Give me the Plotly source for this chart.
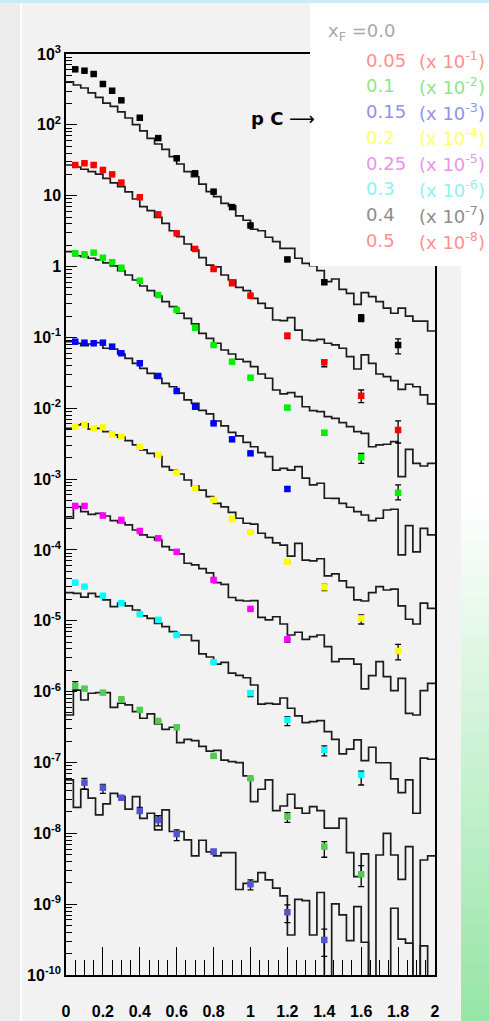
import numpy as np
import plotly.graph_objects as go

# ---------------- data ----------------
bin_edges = list(np.linspace(0.0, 2.0, 51))   # 50 bins of width 0.04

x_all = [0.05, 0.1, 0.15, 0.2, 0.25, 0.3, 0.4, 0.5, 0.6, 0.7, 0.8, 0.9, 1.0, 1.2, 1.4, 1.6, 1.8]

# xF = 0.0 (black)
black_x = x_all
black_y = [608, 581, 522, 377, 303, 222, 126, 65, 33.7, 20.7, 11.4, 6.9, 3.8, 1.26, 0.60, 0.186, 0.078]
black_up = [0, 0, 0, 0, 0, 0, 0, 0, 0, 0, 0, 0, 0, 0.05, 0.03, 0.024, 0.0175]
black_dn = [0, 0, 0, 0, 0, 0, 0, 0, 0, 0, 0, 0, 0, 0.05, 0.03, 0.019, 0.0195]
black_h = [406, 365, 331, 282, 245, 203, 182, 152, 125, 101,
           82, 64.6, 53.7, 45, 35.5, 28, 21.8, 18.5, 14.6, 11.4,
           9.7, 7.8, 7.2, 5.2, 4.5, 3.36, 3.2, 2.59, 2.24, 1.81,
           1.81, 1.31, 1.11, 1.03, 0.873, 0.611, 0.667, 0.477, 0.419, 0.293,
           0.428, 0.375, 0.319, 0.258, 0.219, 0.258, 0.200, 0.170, 0.170, 0.123]

# xF = 0.05 (red)
red_x = x_all
red_y = [27.1, 28.7, 27.1, 23.1, 20.0, 15.3, 9.5, 5.46, 2.94, 1.77, 0.923, 0.58, 0.388, 0.106, 0.0445, 0.0150, 0.00493]
red_up = [0, 0, 0, 0, 0, 0, 0, 0, 0, 0, 0, 0, 0, 0.007, 0.003, 0.0031, 0.0017]
red_dn = [0, 0, 0, 0, 0, 0, 0, 0, 0, 0, 0, 0, 0, 0.010, 0.006, 0.003, 0.0017]
red_h = [27.1, 25.4, 23.6, 21.8, 20.2, 17.6, 15.2, 13.4, 11.3, 8.98,
         7.0, 6.14, 4.95, 4.07, 3.2, 2.64, 2.08, 1.71, 1.34, 1.05,
         0.986, 0.760, 0.646, 0.509, 0.456, 0.356, 0.303, 0.258, 0.176, 0.172,
         0.190, 0.127, 0.0918, 0.0898, 0.094, 0.0826, 0.0782, 0.0702, 0.0535, 0.0358,
         0.0565, 0.0431, 0.0304, 0.0279, 0.0245, 0.0185, 0.0218, 0.0201, 0.0154, 0.0115]

# xF = 0.1 (green)
green_x = x_all
green_y = [1.54, 1.49, 1.57, 1.33, 1.15, 0.964, 0.631, 0.396, 0.244, 0.137, 0.078, 0.0454, 0.027, 0.0102, 0.00452, 0.00203, 6.4e-4]
green_up = [0, 0, 0, 0, 0, 0, 0, 0, 0, 0, 0, 0, 0, 0.0005, 0.0003, 0.00028, 1.9e-4]
green_dn = [0, 0, 0, 0, 0, 0, 0, 0, 0, 0, 0, 0, 0, 0.0005, 0.0003, 0.00036, 1.3e-4]
green_h = [1.62, 1.42, 1.38, 1.31, 1.24, 1.13, 1.02, 0.873, 0.760, 0.646,
           0.531, 0.456, 0.384, 0.319, 0.271, 0.219, 0.186, 0.155, 0.114, 0.0971,
           0.0826, 0.0664, 0.0583, 0.0491, 0.0454, 0.0386, 0.0304, 0.0265, 0.0181, 0.0159,
           0.0166, 0.0146, 0.0105, 0.00923, 0.00893, 0.0076, 0.00721, 0.00625, 0.0055, 0.00467,
           0.00443, 0.00286, 0.00303, 0.0031, 0.00337, 0.00108, 0.00263, 0.00167, 0.00153, 0.00167]

# xF = 0.15 (blue)
blue_x = [0.05, 0.1, 0.15, 0.2, 0.25, 0.3, 0.4, 0.5, 0.6, 0.7, 0.8, 0.9, 1.0, 1.2]
blue_y = [0.0869, 0.0841, 0.0826, 0.0841, 0.074, 0.0597, 0.0431, 0.0285, 0.0175, 0.0105, 0.00612, 0.00364, 0.00231, 7.25e-4]
blue_up = [0, 0, 0, 0, 0, 0, 0, 0, 0, 0, 0, 0, 0, 5e-5]
blue_dn = [0, 0, 0, 0, 0, 0, 0, 0, 0, 0, 0, 0, 0, 5e-5]
blue_h = [0.0869, 0.0826, 0.0764, 0.0807, 0.0841, 0.0702, 0.0686, 0.0583, 0.0507, 0.0431,
          0.0366, 0.0311, 0.0265, 0.0225, 0.0201, 0.0163, 0.0131, 0.0117, 0.0093, 0.0083,
          0.0066, 0.00562, 0.00455, 0.00406, 0.00329, 0.00286, 0.00236, 0.00207, 0.00134, 0.00142,
          0.00134, 0.0015, 0.00103, 8.26e-4, 8.73e-4, 5.36e-4, 5.34e-4, 4.55e-4, 4.0e-4, 3.47e-4,
          3.11e-4, 2.59e-4, 2.8e-4, 3.66e-4, 3.75e-4, 8.5e-5, 2.2e-4, 9.4e-5, 2.02e-4, 1.63e-4]

# xF = 0.2 (yellow)
yellow_x = x_all
yellow_y = [0.0055, 0.00581, 0.00521, 0.00538, 0.00429, 0.00396, 0.00286, 0.00219, 0.00123, 7.41e-4,
            5.07e-4, 2.73e-4, 1.77e-4, 6.83e-5, 2.97e-5, 1.08e-5, 3.75e-6]
yellow_up = [0, 0, 0, 0, 0, 0, 0, 0, 0, 0, 0, 0, 0, 0, 3e-6, 1.3e-6, 9e-7]
yellow_dn = [0, 0, 0, 0, 0, 0, 0, 0, 0, 0, 0, 0, 0, 4e-6, 3e-6, 1.8e-6, 9.5e-7]
yellow_h = [0.00521, 0.00581, 0.006, 0.00505, 0.00521, 0.00467, 0.0042, 0.00389, 0.00348, 0.00303,
            0.00258, 0.00231, 0.00207, 0.0015, 0.00134, 0.00118, 9.7e-4, 8.0e-4, 7.0e-4, 5.65e-4,
            4.55e-4, 4.04e-4, 3.38e-4, 2.8e-4, 2.38e-4, 2.32e-4, 1.72e-4, 1.49e-4, 1.26e-4, 1.17e-4,
            8.2e-5, 1.24e-4, 7.2e-5, 7.0e-5, 7.5e-5, 4.3e-5, 4.6e-5, 3.65e-5, 2.97e-5, 1.97e-5,
            1.9e-5, 2.49e-5, 3.03e-5, 2.72e-5, 2.79e-5, 1.62e-5, 1.05e-5, 9.0e-6, 1.77e-5, 1.5e-5]

# xF = 0.25 (magenta)
magenta_x = [0.05, 0.1, 0.2, 0.3, 0.4, 0.5, 0.6, 0.8, 1.0, 1.2]
magenta_y = [4.17e-4, 4.17e-4, 3.05e-4, 2.65e-4, 1.85e-4, 1.46e-4, 9.4e-5, 3.77e-5, 1.47e-5, 5.48e-6]
magenta_up = [0, 0, 0, 0, 0, 0, 0, 0, 0, 0]
magenta_dn = [0, 0, 0, 0, 0, 0, 0, 0, 0, 5e-7]
magenta_h = [2.8e-4, 4.08e-4, 3.47e-4, 3.18e-4, 3.29e-4, 3.01e-4, 2.59e-4, 2.43e-4, 2.25e-4, 1.91e-4,
             1.63e-4, 1.51e-4, 1.38e-4, 1.11e-4, 9.98e-5, 8.77e-5, 6.48e-5, 6.14e-5, 5.44e-5, 4.73e-5,
             3.45e-5, 3.26e-5, 2.13e-5, 1.94e-5, 1.9e-5, 1.92e-5, 1.12e-5, 1.03e-5, 1.14e-5, 9.0e-6,
             6.3e-6, 6.89e-6, 5.48e-6, 5.97e-6, 6.3e-6, 4.31e-6, 2.65e-6, 2.89e-6, 2.89e-6, 2.45e-6,
             1.09e-6, 1.68e-6, 2.65e-6, 1.63e-6, 1.03e-6, 1.54e-6, 4.94e-7, 4.68e-7, 1.03e-6, 1.31e-6]

# xF = 0.3 (cyan)
cyan_x = [0.05, 0.1, 0.2, 0.3, 0.4, 0.5, 0.6, 0.8, 1.0, 1.2, 1.4, 1.6]
cyan_y = [3.45e-5, 3.03e-5, 2.26e-5, 1.77e-5, 1.24e-5, 1.03e-5, 6.3e-6, 2.6e-6, 9.5e-7, 3.98e-7, 1.5e-7, 6.67e-8]
cyan_up = [0, 0, 0, 0, 0, 0, 0, 0, 5e-8, 4.5e-8, 2.1e-8, 9e-9]
cyan_dn = [0, 0, 0, 0, 0, 0, 0, 0, 1e-7, 6.7e-8, 2.6e-8, 1.86e-8]
cyan_h = [2.49e-5, 2.44e-5, 2.15e-5, 2.44e-5, 2.19e-5, 1.97e-5, 1.58e-5, 1.77e-5, 1.62e-5, 1.42e-5,
          1.17e-5, 1.08e-5, 9.2e-6, 8.26e-6, 7.02e-6, 6.3e-6, 6.3e-6, 5.24e-6, 3.4e-6, 3.08e-6,
          2.45e-6, 2.58e-6, 1.82e-6, 1.69e-6, 1.57e-6, 1.24e-6, 6.68e-7, 6.84e-7, 6.68e-7, 8.13e-7,
          5.82e-7, 4.54e-7, 3.65e-7, 3.77e-7, 3.89e-7, 2.72e-7, 2.12e-7, 1.32e-7, 1.54e-7, 2.08e-7,
          1.06e-7, 1.64e-7, 9.9e-8, 9.9e-8, 5.85e-8, 3.75e-8, 5.66e-8, 1.92e-8, 1.15e-7, 1.11e-7]

# xF = 0.4 (light green)
green2_x = [0.05, 0.1, 0.2, 0.3, 0.4, 0.5, 0.6, 0.8, 1.0, 1.2, 1.4, 1.6]
green2_y = [1.2e-6, 1.1e-6, 9.67e-7, 7.8e-7, 5.51e-7, 3.85e-7, 3.14e-7, 1.24e-7, 5.98e-8, 1.72e-8, 6.48e-9, 2.64e-9]
green2_up = [1.8e-7, 5e-8, 0, 0, 0, 0, 0, 0, 0, 2.4e-9, 1.14e-9, 8.6e-10]
green2_dn = [1.5e-7, 5e-8, 0, 0, 0, 0, 0, 1e-8, 3e-9, 2.9e-9, 1.89e-9, 8.7e-10]
green2_h = [4.68e-7, 1.05e-6, 7.62e-7, 9.48e-7, 9.66e-7, 9.66e-7, 6.01e-7, 6.85e-7, 6.49e-7, 5.21e-7,
            4.21e-7, 4.84e-7, 3.49e-7, 2.94e-7, 3.14e-7, 1.9e-7, 2.12e-7, 2.03e-7, 1.69e-7, 1.45e-7,
            1.48e-7, 1.08e-7, 1.03e-7, 9.93e-8, 6.45e-8, 2.8e-8, 4.19e-8, 5.66e-8, 2.09e-8, 2.43e-8,
            3.56e-8, 2.26e-8, 1.92e-8, 2.38e-8, 2.09e-8, 1.18e-8, 1.18e-8, 1.63e-8, 5.33e-9, 2.44e-9,
            5.13e-9, 0, 4.94e-9, 1.0e-8, 4.94e-9, 2.24e-9, 6.49e-9, 0, 4.2e-9, 4.79e-9]

# xF = 0.5 (violet blue)
blue2_x = [0.1, 0.2, 0.3, 0.4, 0.5, 0.6, 0.8, 1.0, 1.2, 1.4]
blue2_y = [5.19e-8, 4.41e-8, 3.18e-8, 2.07e-8, 1.54e-8, 9.8e-9, 5.51e-9, 1.91e-9, 7.69e-10, 3.13e-10]
blue2_up = [7.9e-9, 5.1e-9, 2e-9, 2.6e-9, 2.3e-9, 1.4e-9, 4e-10, 2.9e-10, 2.1e-10, 1.3e-10]
blue2_dn = [1.0e-8, 7.4e-9, 2e-9, 1.5e-9, 2.7e-9, 1.9e-9, 4e-10, 3.2e-10, 2.2e-10, 1.3e-10]
blue2_h = [5.66e-8, 2.33e-8, 4.19e-8, 3.13e-8, 1.82e-8, 2.6e-8, 3.67e-8, 3.29e-8, 2.19e-8, 3.29e-8,
           1.63e-8, 1.92e-8, 1.12e-8, 2.14e-8, 1.06e-8, 1.06e-8, 8.07e-9, 4.79e-9, 7.98e-9, 5.46e-9,
           4.79e-9, 5.33e-9, 5.33e-9, 1.61e-9, 1.97e-9, 2.08e-9, 2.79e-9, 2.2e-9, 1.68e-9, 1.31e-9,
           3.67e-10, 1.17e-9, 1.12e-9, 3.67e-10, 1.46e-9, 0, 1.01e-9, 7.05e-10, 3.06e-10, 9.23e-10,
           2.9e-10, 0, 0, 0, 8.75e-10, 3.2e-10, 2.81e-10, 0, 2.57e-10, 0]

legend_values = ["0.05", "0.1", "0.15", "0.2", "0.25", "0.3", "0.4", "0.5"]
legend_exps = ["-1", "-2", "-3", "-4", "-5", "-6", "-7", "-8"]

x_tickvals = [0, 0.2, 0.4, 0.6, 0.8, 1.0, 1.2, 1.4, 1.6, 1.8, 2.0]
x_ticktext = ["0", "0.2", "0.4", "0.6", "0.8", "1", "1.2", "1.4", "1.6", "1.8", "2"]
y_exps = list(range(-10, 4))
y_ticktext = ["10<sup>%d</sup>" % e for e in range(-10, 0)] + ["1", "10", "10<sup>2</sup>", "10<sup>3</sup>"]

# ---------------- styling ----------------
W, H = 489, 1021
L, R, T, B = 66, 435, 54, 975
BG = "#f2f2f2"

series = [
    (black_x, black_y, black_up, black_dn, black_h, "#000000"),
    (red_x, red_y, red_up, red_dn, red_h, "#ff0000"),
    (green_x, green_y, green_up, green_dn, green_h, "#00f000"),
    (blue_x, blue_y, blue_up, blue_dn, blue_h, "#0000ff"),
    (yellow_x, yellow_y, yellow_up, yellow_dn, yellow_h, "#ffff00"),
    (magenta_x, magenta_y, magenta_up, magenta_dn, magenta_h, "#ff00ff"),
    (cyan_x, cyan_y, cyan_up, cyan_dn, cyan_h, "#00ffff"),
    (green2_x, green2_y, green2_up, green2_dn, green2_h, "#50cc50"),
    (blue2_x, blue2_y, blue2_up, blue2_dn, blue2_h, "#5252d4"),
]

legend_colors = ["#ff8f8f", "#8fe48f", "#9292e6", "#ffff6a", "#e994e9", "#8ff0f0", "#8c8c8c", "#ff8f8f"]


def fx(p):
    return (p - L) / (R - L)


def fy(p):
    return (B - p) / (B - T)


fig = go.Figure()

for xs, ys, up, dn, hv, col in series:
    yplot = [v if v > 0 else 1e-13 for v in hv]
    fig.add_trace(go.Scatter(
        x=bin_edges, y=yplot + [yplot[-1]], mode="lines",
        line=dict(shape="hv", color="#1c1c1c", width=1.7),
        hoverinfo="skip", showlegend=False))

for xs, ys, up, dn, hv, col in series:
    fig.add_trace(go.Scatter(
        x=xs, y=ys, mode="markers",
        marker=dict(symbol="square", size=6.5, color=col, line=dict(width=0)),
        error_y=dict(type="data", symmetric=False, array=up, arrayminus=dn,
                     color="#000000", thickness=1.3, width=3),
        showlegend=False))

shapes = []
shapes.append(dict(type="rect", xref="paper", yref="paper", x0=fx(0), x1=fx(20), y0=fy(H), y1=fy(0),
                   fillcolor="#ececec", line=dict(width=0), layer="below"))
shapes.append(dict(type="rect", xref="paper", yref="paper", x0=fx(20), x1=fx(22), y0=fy(H), y1=fy(0),
                   fillcolor="#ffffff", line=dict(width=0), layer="below"))
shapes.append(dict(type="rect", xref="paper", yref="paper", x0=fx(0), x1=fx(W), y0=fy(3), y1=fy(0),
                   fillcolor="#c8ecf8", line=dict(width=0), layer="above"))
shapes.append(dict(type="rect", xref="paper", yref="paper", x0=fx(310), x1=fx(W), y0=fy(266), y1=fy(3),
                   fillcolor="#ffffff", line=dict(width=0), layer="above"))
shapes.append(dict(type="rect", xref="paper", yref="paper", x0=fx(461), x1=fx(W), y0=fy(500), y1=fy(266),
                   fillcolor="#ffffff", line=dict(width=0), layer="above"))
n_steps = 27
top, bot = 500, H
c0 = np.array([255, 255, 255])
c1 = np.array([150, 229, 166])
for i in range(n_steps):
    y0 = top + (bot - top) * i / n_steps
    y1 = top + (bot - top) * (i + 1) / n_steps
    t = (i + 0.5) / n_steps
    c = (c0 + (c1 - c0) * t).astype(int)
    shapes.append(dict(type="rect", xref="paper", yref="paper", x0=fx(461), x1=fx(W), y0=fy(y1 + 0.5), y1=fy(y0),
                       fillcolor="rgb(%d,%d,%d)" % tuple(c), line=dict(width=0), layer="above"))

annotations = []
annotations.append(dict(xref="paper", yref="paper", x=fx(249), y=fy(118), xanchor="left", yanchor="middle",
                        text="<b>p C</b> \u27f6", showarrow=False,
                        font=dict(family="DejaVu Sans", size=18, color="#000000")))
annotations.append(dict(xref="paper", yref="paper", x=fx(326), y=fy(32), xanchor="left", yanchor="middle",
                        text="x<sub>F</sub> =0.0", showarrow=False,
                        font=dict(family="DejaVu Sans", size=18, color="#a8a8a8")))
for i, (v, e, c) in enumerate(zip(legend_values, legend_exps, legend_colors)):
    yy = 60 + 25.8 * i
    annotations.append(dict(xref="paper", yref="paper", x=fx(364), y=fy(yy), xanchor="left", yanchor="middle",
                            text=v, showarrow=False, font=dict(family="DejaVu Sans", size=18, color=c)))
    annotations.append(dict(xref="paper", yref="paper", x=fx(417), y=fy(yy), xanchor="left", yanchor="middle",
                            text="(x 10<sup>%s</sup>)" % e, showarrow=False,
                            font=dict(family="DejaVu Sans", size=18, color=c)))

fig.update_layout(
    width=W, height=H, autosize=False,
    margin=dict(l=L, r=W - R, t=T, b=H - B, pad=0, autoexpand=False),
    paper_bgcolor=BG, plot_bgcolor=BG,
    shapes=shapes, annotations=annotations,
    showlegend=False,
    xaxis=dict(range=[0, 2], showgrid=False, zeroline=False, automargin=False,
               showline=True, linecolor="#000000", linewidth=1.5, mirror=True,
               ticks="inside", ticklen=28, tickwidth=1, tickcolor="#000000",
               tickmode="array", tickvals=x_tickvals, ticktext=x_ticktext,
               tickfont=dict(family="Liberation Sans", size=16, color="#000000", weight="bold"),
               ticklabelstandoff=21,
               minor=dict(ticks="inside", ticklen=15, tickwidth=1, tickcolor="#000000",
                          tickmode="linear", tick0=0, dtick=0.05, showgrid=False)),
    yaxis=dict(type="log", range=[-10, 3], showgrid=False, zeroline=False, automargin=False,
               showline=True, linecolor="#000000", linewidth=1.5, mirror=True,
               ticks="inside", ticklen=11, tickwidth=1, tickcolor="#000000",
               tickmode="array", tickvals=[10.0 ** e for e in y_exps], ticktext=y_ticktext,
               tickfont=dict(family="Liberation Sans", size=16, color="#000000", weight="bold"),
               minor=dict(ticks="inside", ticklen=6, tickwidth=1, tickcolor="#000000",
                          tickmode="array",
                          tickvals=[k * 10.0 ** e for e in range(-10, 3) for k in range(2, 10)],
                          showgrid=False)),
)

fig.write_html("out.html")
